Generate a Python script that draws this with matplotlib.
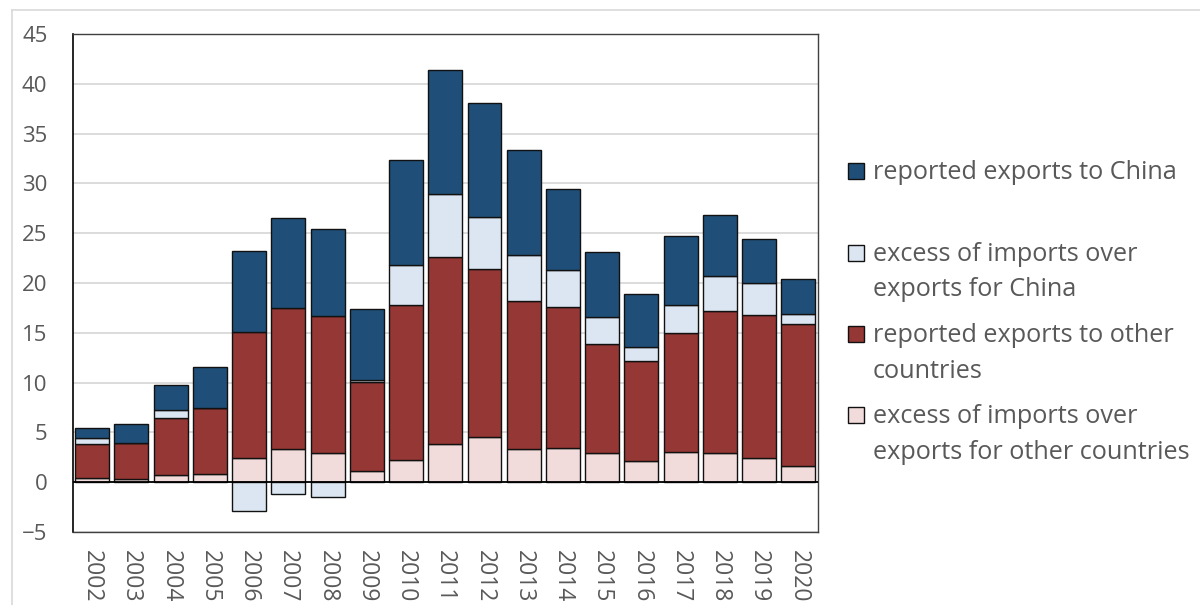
import numpy as np
import matplotlib.pyplot as plt
from matplotlib.patches import Rectangle
from matplotlib.lines import Line2D

plt.rcParams['font.family'] = ['Open Sans', 'DejaVu Sans']

years = [str(y) for y in range(2002, 2021)]
excess_other = [0.4, 0.3, 0.7, 0.85, 2.4, 3.3, 2.9, 1.15, 2.2, 3.8, 4.5, 3.3, 3.45, 2.9, 2.1, 3.05, 2.9, 2.4, 1.6]
reported_other = [3.45, 3.65, 5.7, 6.55, 12.7, 14.15, 13.8, 8.9, 15.6, 18.8, 16.9, 14.85, 14.1, 10.95, 10.05, 11.95, 14.3, 14.4, 14.3]
excess_china = [0.55, 0.0, 0.8, 0.1, -2.9, -1.15, -1.5, 0.2, 4.0, 6.3, 5.2, 4.7, 3.75, 2.75, 1.45, 2.8, 3.55, 3.2, 1.0]
reported_china = [1.0, 1.85, 2.55, 4.1, 8.15, 9.05, 8.7, 7.15, 10.5, 12.45, 11.5, 10.55, 8.15, 6.5, 5.25, 6.9, 6.1, 4.4, 3.5]

labels = ['reported exports to China',
          'excess of imports over\nexports for China',
          'reported exports to other\ncountries',
          'excess of imports over\nexports for other countries']
colors = ['#1f4e79', '#dce6f2', '#953735', '#f2dcdb']

W, H = 1200, 605
fig = plt.figure(figsize=(W / 100, H / 100), dpi=100)
ax = fig.add_axes([72.5 / W, 1 - 532 / H, (818 - 72.5) / W, (532 - 34) / H])

x = np.arange(len(years))
eo = np.array(excess_other)
ro = np.array(reported_other)
ec = np.array(excess_china)
rc = np.array(reported_china)

width = 0.865
edge = dict(edgecolor='#111111', linewidth=1.0, zorder=3)
ax.bar(x, eo, width, color=colors[3], **edge)
ax.bar(x, ro, width, bottom=eo, color=colors[2], **edge)
ec_bottom = np.where(ec >= 0, eo + ro, 0)
ax.bar(x, ec, width, bottom=ec_bottom, color=colors[1], **edge)
ax.bar(x, rc, width, bottom=eo + ro + np.clip(ec, 0, None), color=colors[0], **edge)

ax.set_xlim(-0.5, len(years) - 0.5)
ax.set_ylim(-5, 45)
ax.set_yticks(range(-5, 50, 5))
ax.set_xticks(x)
ax.set_xticklabels(years, rotation=-90)
ax.tick_params(axis='both', length=0, labelsize=16, colors='#595959')
ax.tick_params(axis='x', labelsize=16.5)
ax.tick_params(axis='y', pad=18)
ax.tick_params(axis='x', pad=13)
ax.grid(axis='y', color='#d9d9d9', linewidth=1.3, zorder=0)
ax.set_axisbelow(True)
ax.axhline(0, color='black', linewidth=1.3, zorder=4)
for s in ['top', 'bottom', 'right']:
    ax.spines[s].set_color('#404040')
    ax.spines[s].set_linewidth(1.0)
ax.spines['left'].set_color('black')
ax.spines['left'].set_linewidth(1.2)

# outer chart frame
fig.add_artist(Line2D([12 / W, 1], [1 - 10 / H, 1 - 10 / H], color='#d9d9d9', lw=1.2))
fig.add_artist(Line2D([12 / W, 12 / W], [0, 1 - 10 / H], color='#d9d9d9', lw=1.2))

# legend, laid out like the original
for i, (lab, col) in enumerate(zip(labels, colors)):
    base = 179.5 + 81.3 * i
    fig.add_artist(Rectangle((848 / W, 1 - base / H), 16 / W, 16 / H,
                             facecolor=col, edgecolor='#111111', lw=1.0,
                             transform=fig.transFigure))
    for j, line in enumerate(lab.split('\n')):
        fig.text(873 / W, 1 - (base + 35.5 * j) / H, line, fontsize=18.2,
                 color='#595959', va='baseline', ha='left')

fig.savefig('out.png', dpi=100)
